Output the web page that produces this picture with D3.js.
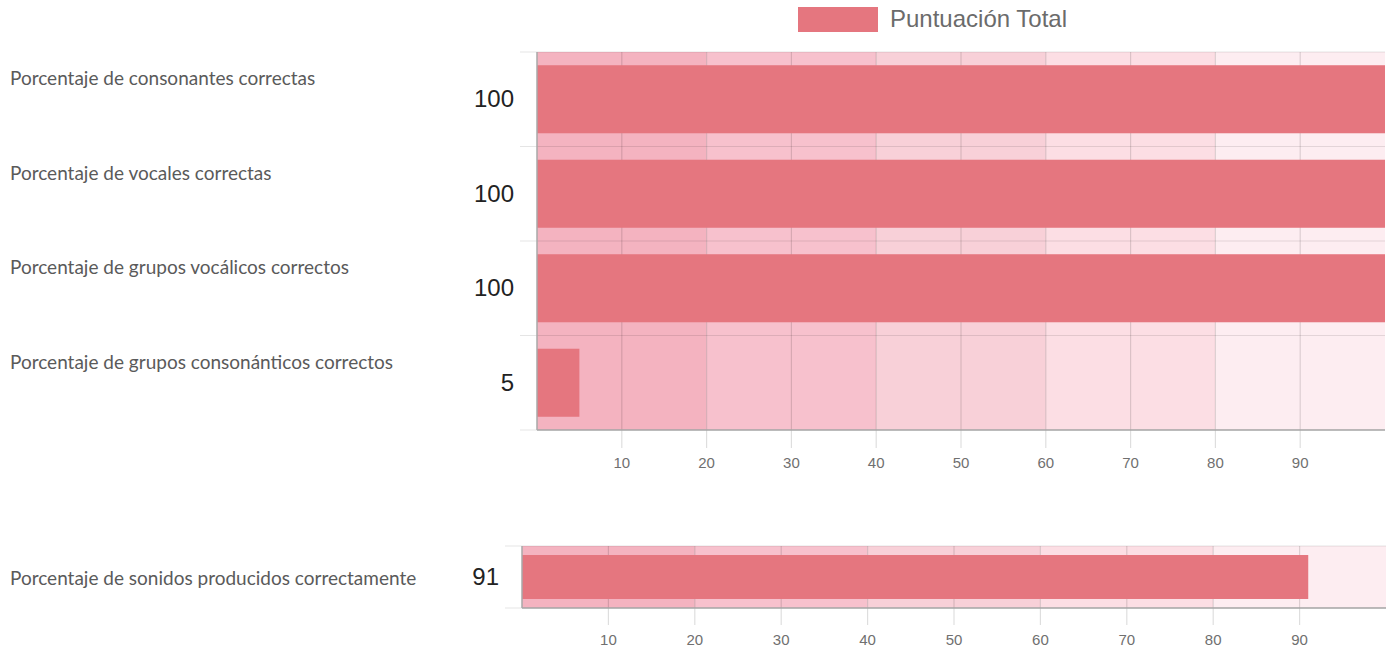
<!DOCTYPE html>
<meta charset="utf-8">
<script src="https://d3js.org/d3.v7.min.js"></script>
<style>
  body { margin: 0; background: #fff; }
</style>
<div id="chart"></div>
<script>

// data
var categories = [
  "Porcentaje de consonantes correctas",
  "Porcentaje de vocales correctas",
  "Porcentaje de grupos vocálicos correctos",
  "Porcentaje de grupos consonánticos correctos"
];
var values = [100, 100, 100, 5];
var totalCategories = ["Porcentaje de sonidos producidos correctamente"];
var totalValues = [91];
var xTicks = [10, 20, 30, 40, 50, 60, 70, 80, 90];
var bandStops = [0, 20, 40, 60, 80, 100];
var bandColors = ["#f4b3c0", "#f7c1cd", "#f8d0d8", "#fcdee4", "#fdedf1"];
var seriesName = "Puntuación Total";
var barColor = "#e5767f";

var width = 1392, height = 650;

var svg = d3.select("#chart")
  .append("svg")
    .attr("width", width)
    .attr("height", height);

// legend
svg.append("rect")
  .attr("x", 798).attr("y", 7)
  .attr("width", 80).attr("height", 25)
  .attr("fill", barColor);
svg.append("text")
  .attr("x", 890).attr("y", 27)
  .style("font-family", "'Liberation Sans', Arial, sans-serif")
  .style("font-size", "24px")
  .style("fill", "#6b6b6b")
  .text(seriesName);

// draws one bar panel
function panel(cats, vals, left, right, y0, y1, pInner, pOuter, tickLen) {
  var g = svg.append("g");

  var x = d3.scaleLinear().domain([0, 100]).range([left, right]);
  var y = d3.scaleBand().domain(cats).range([y0, y1])
    .paddingInner(pInner).paddingOuter(pOuter);

  // background bands
  g.selectAll(".band")
    .data(bandStops.slice(0, -1))
    .enter()
    .append("rect")
      .attr("x", function(d){ return x(d) })
      .attr("y", y0)
      .attr("width", function(d, i){ return x(bandStops[i+1]) - x(d) })
      .attr("height", y1 - y0)
      .attr("fill", function(d, i){ return bandColors[i] });

  // vertical grid lines
  g.selectAll(".vgrid")
    .data(xTicks)
    .enter()
    .append("line")
      .attr("x1", function(d){ return x(d) })
      .attr("x2", function(d){ return x(d) })
      .attr("y1", y0)
      .attr("y2", y1 + tickLen)
      .attr("stroke", "rgba(0,0,0,0.13)")
      .attr("stroke-width", 1.2);

  // row boundaries
  var rows = d3.range(cats.length + 1).map(function(i){ return y0 + i * (y1 - y0) / cats.length });
  g.selectAll(".hgrid")
    .data(rows)
    .enter()
    .append("line")
      .attr("x1", left - 17)
      .attr("x2", right)
      .attr("y1", function(d){ return d })
      .attr("y2", function(d){ return d })
      .attr("stroke", "rgba(0,0,0,0.1)")
      .attr("stroke-width", 1.2);

  // bars
  g.selectAll(".bar")
    .data(vals)
    .enter()
    .append("rect")
      .attr("x", x(0))
      .attr("y", function(d, i){ return y(cats[i]) })
      .attr("width", function(d){ return x(d) - x(0) })
      .attr("height", y.bandwidth())
      .attr("fill", barColor);

  // axis lines
  g.append("line")
    .attr("x1", left).attr("x2", left)
    .attr("y1", y0).attr("y2", y1)
    .attr("stroke", "#a8a8a8").attr("stroke-width", 1.5);
  g.append("line")
    .attr("x1", left).attr("x2", right)
    .attr("y1", y1).attr("y2", y1)
    .attr("stroke", "#a8a8a8").attr("stroke-width", 1.5);

  // tick labels
  g.selectAll(".tick")
    .data(xTicks)
    .enter()
    .append("text")
      .attr("x", function(d){ return x(d) })
      .attr("y", y1 + tickLen + 20)
      .attr("text-anchor", "middle")
      .style("font-family", "'Liberation Sans', Arial, sans-serif")
      .style("font-size", "15px")
      .style("fill", "#707070")
      .text(function(d){ return d });

  // value labels
  g.selectAll(".val")
    .data(vals)
    .enter()
    .append("text")
      .attr("x", left - 23)
      .attr("y", function(d, i){ return y(cats[i]) + y.bandwidth() / 2 + 8 })
      .attr("text-anchor", "end")
      .style("font-family", "'Liberation Sans', Arial, sans-serif")
      .style("font-size", "24px")
      .style("fill", "#222")
      .text(function(d){ return d });

  return {x: x, y: y};
}

var upper = panel(categories, values, 537, 1385, 52, 430, 0.28, 0.14, 18);
var lower = panel(totalCategories, totalValues, 522, 1386, 546, 608, 0.2, 0.164, 17);

// category labels
svg.selectAll(".cat")
  .data(categories)
  .enter()
  .append("text")
    .attr("x", 10)
    .attr("y", function(d){ return upper.y(d) + 20 })
    .style("font-family", "Lato, sans-serif")
    .style("font-size", "19px")
    .style("fill", "#5a5a5a")
    .text(function(d){ return d });

svg.selectAll(".cat2")
  .data(totalCategories)
  .enter()
  .append("text")
    .attr("x", 10)
    .attr("y", function(d){ return lower.y(d) + lower.y.bandwidth() / 2 + 8 })
    .style("font-family", "Lato, sans-serif")
    .style("font-size", "19px")
    .style("fill", "#5a5a5a")
    .text(function(d){ return d });

</script>
